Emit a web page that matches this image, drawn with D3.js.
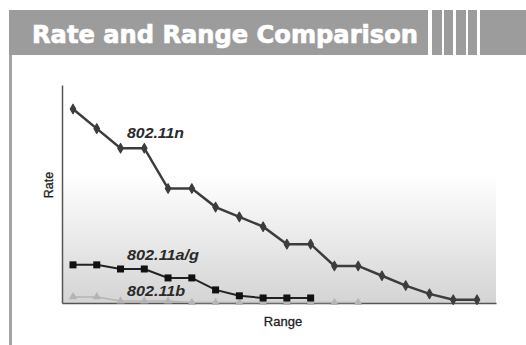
<!DOCTYPE html>
<html>
<head>
<meta charset="utf-8">
<script src="https://cdn.jsdelivr.net/npm/d3@7/dist/d3.min.js"></script>
<style>
  html, body { margin: 0; padding: 0; background: #fff; }
  svg { display: block; }
</style>
</head>
<body>
<div id="chart"></div>
<script>
// range steps (no tick labels in the original)
var rangeSteps = d3.range(18);
// rate values per standard (arbitrary units, 0-100)
var rateN  = [89, 80, 71, 71, 52.5, 52.5, 44, 39.5, 35, 27, 27, 17, 17, 12.5, 8, 4.2, 1.5, 1.5];
var rateAG = [17.5, 17.5, 15.6, 15.6, 11.5, 11.5, 6, 3.3, 2.3, 2.3, 2.3];
var rateB  = [2.8, 2.8, 0.9, 0.9, 0.9, 0.2, 0.2, 0.2, 0.2, 0.2, 0.2, 0.2, 0.2];
var seriesNames = ['802.11n', '802.11a/g', '802.11b'];

var svgWidth = 526, svgHeight = 345;
var plot = { left: 62, right: 496, top: 85, bottom: 303 };

var svg = d3.select('#chart')
  .append('svg')
  .attr('width', svgWidth)
  .attr('height', svgHeight);

// header band
var headerColor = '#9c9c9c';
svg.append('rect').attr('x', 9).attr('y', 10).attr('width', 419).attr('height', 45).attr('fill', headerColor);
svg.append('text')
  .attr('x', 32).attr('y', 43)
  .attr('font-family', 'DejaVu Sans, sans-serif')
  .attr('font-weight', 'bold')
  .attr('font-size', '24px')
  .attr('fill', '#fff')
  .attr('stroke', '#fff')
  .attr('stroke-width', 0.7)
  .attr('textLength', 386)
  .attr('lengthAdjust', 'spacingAndGlyphs')
  .text('Rate and Range Comparison');
// stripes on the right of the header
[[432, 10], [444, 9], [456, 10], [468, 9], [480, 46]].forEach(function (s) {
  svg.append('rect').attr('x', s[0]).attr('y', 10).attr('width', s[1]).attr('height', 45).attr('fill', headerColor);
});
// left rule below header
svg.append('rect').attr('x', 9).attr('y', 55).attr('width', 3).attr('height', 290).attr('fill', '#a4a4a4');

// gradient behind lower part of plot
var defs = svg.append('defs');
var grad = defs.append('linearGradient').attr('id', 'bg').attr('x1', 0).attr('y1', 0).attr('x2', 0).attr('y2', 1);
grad.append('stop').attr('offset', '0%').attr('stop-color', '#ffffff');
grad.append('stop').attr('offset', '100%').attr('stop-color', '#d4d4d4');
svg.append('rect')
  .attr('x', plot.left).attr('y', 175)
  .attr('width', plot.right - plot.left).attr('height', plot.bottom - 175)
  .attr('fill', 'url(#bg)');

// scales
var x = d3.scaleLinear().domain([0, 17]).range([73, 477]);
var y = d3.scaleLinear().domain([0, 100]).range([plot.bottom, plot.top]);

// axes (no ticks, just the lines)
var yAxisG = svg.append('g').attr('transform', 'translate(' + plot.left + ',0)')
  .call(d3.axisLeft(y).ticks(0).tickSize(0));
yAxisG.select('path').attr('stroke', '#555').attr('stroke-width', 1.5);
var xAxisG = svg.append('g').attr('transform', 'translate(0,' + plot.bottom + ')')
  .call(d3.axisBottom(d3.scaleLinear().domain([0, 1]).range([plot.left, plot.right])).ticks(0).tickSize(0));
xAxisG.select('path').attr('stroke', '#555').attr('stroke-width', 1.5);

svg.append('text')
  .attr('transform', 'translate(53,185) rotate(-90)')
  .attr('text-anchor', 'middle')
  .attr('font-family', 'Liberation Sans, sans-serif')
  .attr('font-size', '12.5px')
  .attr('fill', '#222')
  .attr('stroke', '#222')
  .attr('stroke-width', 0.3)
  .text('Rate');
svg.append('text')
  .attr('x', 283).attr('y', 326)
  .attr('text-anchor', 'middle')
  .attr('font-family', 'Liberation Sans, sans-serif')
  .attr('font-size', '13px')
  .attr('fill', '#222')
  .attr('stroke', '#222')
  .attr('stroke-width', 0.3)
  .text('Range');

var line = d3.line()
  .x(function (d, i) { return x(rangeSteps[i]); })
  .y(function (d) { return y(d); });

// 802.11b
svg.append('path').datum(rateB).attr('d', line)
  .attr('fill', 'none').attr('stroke', '#b4b4b4').attr('stroke-width', 1.5);
svg.selectAll('.pb').data(rateB).enter().append('path')
  .attr('d', d3.symbol().type(d3.symbolTriangle).size(30))
  .attr('transform', function (d, i) { return 'translate(' + x(rangeSteps[i]) + ',' + y(d) + ')'; })
  .attr('fill', '#b4b4b4');

// 802.11a/g
svg.append('path').datum(rateAG).attr('d', line)
  .attr('fill', 'none').attr('stroke', '#222').attr('stroke-width', 2);
svg.selectAll('.pag').data(rateAG).enter().append('rect')
  .attr('x', function (d, i) { return x(rangeSteps[i]) - 3.5; })
  .attr('y', function (d) { return y(d) - 3.5; })
  .attr('width', 7).attr('height', 7)
  .attr('fill', '#111');

// 802.11n
svg.append('path').datum(rateN).attr('d', line)
  .attr('fill', 'none').attr('stroke', '#3c3c3c').attr('stroke-width', 2.5);
svg.selectAll('.pn').data(rateN).enter().append('path')
  .attr('d', d3.symbol().type(d3.symbolDiamond).size(26))
  .attr('transform', function (d, i) { return 'translate(' + x(rangeSteps[i]) + ',' + y(d) + ')'; })
  .attr('fill', '#3c3c3c')
  .attr('stroke', '#3c3c3c')
  .attr('stroke-width', 1.2)
  .attr('stroke-linejoin', 'round');

// series labels
var labelPos = [[127, 138], [127, 260], [127, 296]];
var labelWidth = [57, 72, 58];
seriesNames.forEach(function (name, i) {
  svg.append('text')
    .attr('x', labelPos[i][0]).attr('y', labelPos[i][1])
    .attr('font-family', 'Liberation Sans, sans-serif')
    .attr('font-style', 'italic')
    .attr('font-weight', 'bold')
    .attr('font-size', '14px')
    .attr('fill', '#2a2a2a')
    .attr('textLength', labelWidth[i])
    .attr('lengthAdjust', 'spacingAndGlyphs')
    .text(name);
});
</script>
</body>
</html>
